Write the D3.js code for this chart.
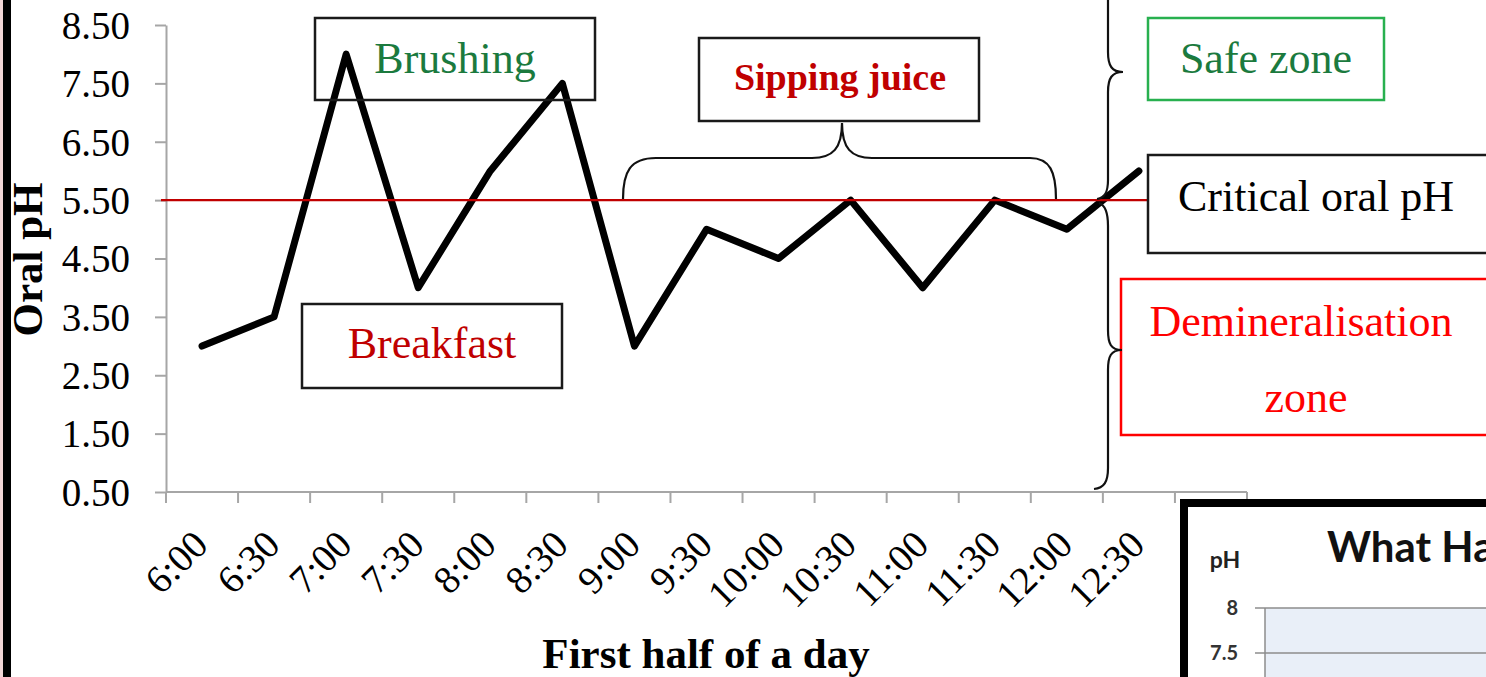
<!DOCTYPE html>
<html><head><meta charset="utf-8">
<script src="https://cdn.jsdelivr.net/npm/d3@7"></script>
<style>html,body{margin:0;padding:0;background:#fff;overflow:hidden}</style>
</head><body>
<svg id="c" width="1486" height="677"></svg>
<script>
// ---- data ----
const categories = ["6:00","6:30","7:00","7:30","8:00","8:30","9:00","9:30","10:00","10:30","11:00","11:30","12:00","12:30"];
const phValues = [3.0, 3.5, 8.0, 4.0, 6.0, 7.5, 3.0, 5.0, 4.5, 5.5, 4.0, 5.5, 5.0, 6.0];
const yTicks = [0.5, 1.5, 2.5, 3.5, 4.5, 5.5, 6.5, 7.5, 8.5];
const criticalPH = 5.5;
const insetTicks = [8, 7.5];
const yTitle = "Oral pH";
const xTitle = "First half of a day";

const svg = d3.select("#c");
const serif = "'Liberation Serif','Times New Roman',serif";

svg.append("rect").attr("width",1486).attr("height",677).attr("fill","#fff");
// left frame edge
svg.append("rect").attr("x",0).attr("y",0).attr("width",3).attr("height",677).attr("fill","#f2d6d6");
svg.append("rect").attr("x",3).attr("y",0).attr("width",8).attr("height",677).attr("fill","#000");

// ---- scales ----
const x = d3.scaleBand().domain([...categories, " "]).range([166, 1247]).padding(0);
const y = d3.scaleLinear().domain([0.5, 8.5]).range([492, 25]);
const bw = x.bandwidth();
const axisColor = "#a6a6a6";

// y axis
const yAxis = d3.axisLeft(y).tickValues(yTicks).tickFormat(d3.format(".2f"))
  .tickSize(11).tickSizeOuter(0).tickPadding(25);
const gy = svg.append("g").attr("transform","translate(166,0)").call(yAxis);
gy.select(".domain").attr("stroke",axisColor).attr("stroke-width",2);
gy.selectAll(".tick line").attr("stroke",axisColor).attr("stroke-width",2);
gy.selectAll(".tick text").attr("fill","#000").attr("font-family",serif).attr("font-size",39).attr("dy","0.34em");

// x axis (ticks between categories)
const gx = svg.append("g");
gx.append("line").attr("x1",x.range()[0]).attr("x2",x.range()[1]).attr("y1",y(0.5)).attr("y2",y(0.5))
  .attr("stroke",axisColor).attr("stroke-width",2);
const bounds = x.domain().map(d => x(d)).concat([x.range()[1]]);
gx.selectAll("line.t").data(bounds).join("line").attr("class","t")
  .attr("x1",d=>d).attr("x2",d=>d).attr("y1",y(0.5)).attr("y2",y(0.5)+11)
  .attr("stroke",axisColor).attr("stroke-width",2);
gx.selectAll("text").data(categories).join("text")
  .attr("transform",d=>`translate(${x(d)+bw/2+8},547) rotate(-45)`)
  .attr("text-anchor","end").attr("font-family",serif).attr("font-size",39).text(d=>d);

// axis titles
svg.append("text").attr("transform",`translate(42,${(y(8.5)+y(0.5))/2+1}) rotate(-90)`)
  .attr("text-anchor","middle").attr("font-family",serif).attr("font-weight","bold").attr("font-size",43).text(yTitle);
svg.append("text").attr("x",706).attr("y",668).attr("text-anchor","middle")
  .attr("font-family",serif).attr("font-weight","bold").attr("font-size",43).text(xTitle);

// data line
const line = d3.line().x((d,i)=>x(categories[i])+bw/2).y(d=>y(d));
svg.append("path").datum(phValues).attr("d",line).attr("fill","none")
  .attr("stroke","#000").attr("stroke-width",7).attr("stroke-linejoin","round").attr("stroke-linecap","round");

// critical line
svg.append("line").attr("x1",161).attr("x2",1148).attr("y1",y(criticalPH)).attr("y2",y(criticalPH))
  .attr("stroke","#c00000").attr("stroke-width",2.2);

// annotation boxes
function box(x0,y0,x1,y1,stroke){
  svg.append("rect").attr("x",x0).attr("y",y0).attr("width",x1-x0).attr("height",y1-y0)
    .attr("fill","none").attr("stroke",stroke).attr("stroke-width",2.5);
}
function label(t,xx,yy,color,anchor,weight,size){
  svg.append("text").attr("x",xx).attr("y",yy).attr("text-anchor",anchor||"middle")
    .attr("font-family",serif).attr("font-weight",weight||"normal").attr("font-size",size||44)
    .attr("fill",color).text(t);
}
box(315,18,595,100,"#1a1a1a"); label("Brushing",455,73,"#1b7a3e");
box(302,304,562,388,"#1a1a1a"); label("Breakfast",432,358,"#c00000");
box(699,38,979,121,"#1a1a1a"); label("Sipping juice",840,90,"#c00000","middle","bold",38);
box(1148,18,1384,100,"#28b04f"); label("Safe zone",1266,73,"#1b7a3e");
box(1148,155,1520,253,"#1a1a1a"); label("Critical oral pH",1178,211,"#000","start");
box(1121,279,1520,435,"#ff0000"); label("Demineralisation",1301,336,"#ff0000"); label("zone",1306,412,"#ff0000");

// braces
const braceStyle = p => p.attr("fill","none").attr("stroke","#111").attr("stroke-width",2.2);
svg.append("path").attr("d","M623,199 C623,172 630,158 656,158 L812,158 C833,158 842,148 842,123 C842,148 851,158 872,158 L1030,158 C1050,158 1056,172 1056,199").call(braceStyle);
svg.append("path").attr("d","M1092,-55 C1103,-55 1108,-48 1108,-33 L1108,52 C1108,66 1112,72 1123,72 C1112,72 1108,78 1108,92 L1108,180 C1108,192 1105,198 1097,199").call(braceStyle);
svg.append("path").attr("d","M1099,203 C1105,205 1108,212 1108,226 L1108,330 C1108,344 1111,350 1122,350 C1111,350 1108,356 1108,370 L1108,468 C1108,482 1104,488 1094,489").call(braceStyle);

// inset (cropped chart)
const ig = svg.append("g");
ig.append("rect").attr("x",1184).attr("y",503).attr("width",400).attr("height",300).attr("fill","#fff").attr("stroke","#000").attr("stroke-width",8);
const iy = d3.scaleLinear().domain([7.5, 8]).range([653, 608]);
ig.append("rect").attr("x",1265).attr("y",iy(8)).attr("width",300).attr("height",100).attr("fill","#e9eff8");
ig.selectAll("line.g").data(insetTicks).join("line").attr("class","g")
  .attr("x1",1255).attr("x2",1490).attr("y1",d=>iy(d)).attr("y2",d=>iy(d)).attr("stroke","#8c8c8c").attr("stroke-width",1.5);
ig.append("line").attr("x1",1265).attr("x2",1265).attr("y1",iy(8)).attr("y2",690).attr("stroke","#8c8c8c").attr("stroke-width",1.5);
ig.selectAll("text.t").data(insetTicks).join("text").attr("class","t")
  .attr("x",1238).attr("y",d=>iy(d)+7).attr("text-anchor","end").attr("font-family","Lato,'Liberation Sans',sans-serif")
  .attr("font-weight","bold").attr("font-size",20).attr("fill","#333").text(d=>d);
ig.append("text").attr("x",1225).attr("y",568).attr("text-anchor","middle").attr("font-family","Lato,'Liberation Sans',sans-serif")
  .attr("font-weight","bold").attr("font-size",23).attr("fill","#222").text("pH");
ig.append("text").attr("x",1327).attr("y",562).attr("font-family","Lato,'Liberation Sans',sans-serif")
  .attr("font-weight","bold").attr("font-size",42).attr("fill","#111").text("What Happens");
</script>
</body></html>
